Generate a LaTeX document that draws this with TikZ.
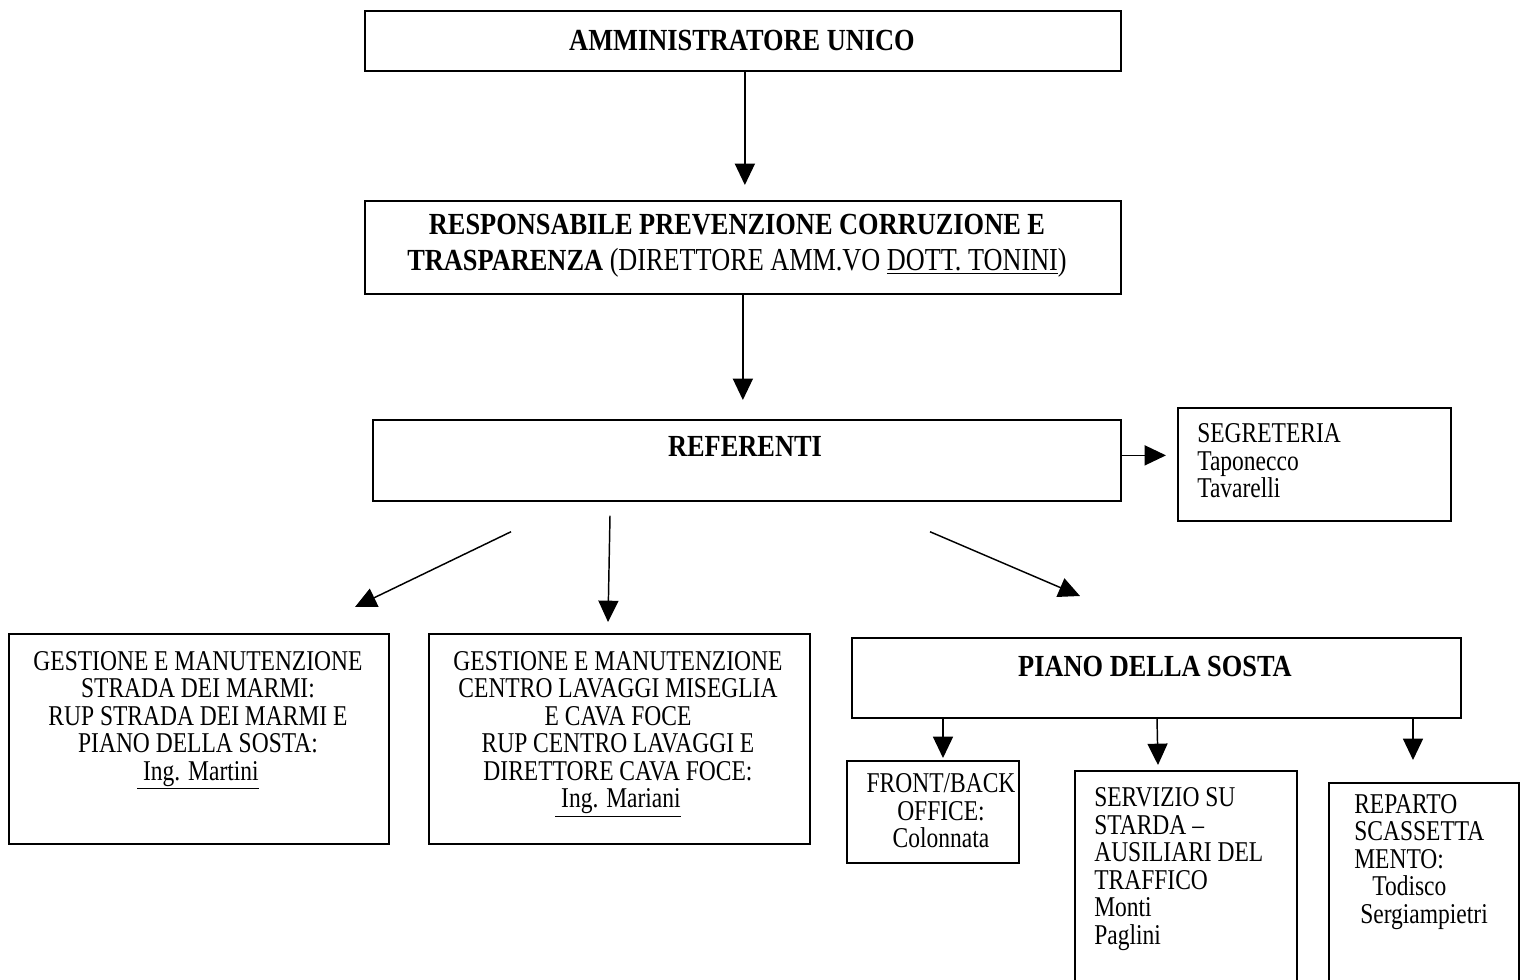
\documentclass[tikz,border=0pt]{standalone}
\usepackage{fontspec}
\setmainfont{Liberation Serif}[FakeStretch=0.82, BoldFeatures={FakeStretch=0.86}]
\usetikzlibrary{arrows.meta}
\begin{document}
\begin{tikzpicture}[x=0.75pt,y=-0.75pt,
  box/.style={draw, line width=1.3pt, inner sep=0pt, anchor=north west},
  arr/.style={line width=1.1pt, -{Triangle[length=16pt,width=15pt]}},
  txt/.style={font=\fontsize{21.5}{20.6}\selectfont, inner sep=0pt},
  btxt/.style={font=\fontsize{23}{27}\selectfont\bfseries, inner sep=0pt}]
\useasboundingbox (0,0) rectangle (1521,979);
\clip (0,0) rectangle (1521,979);

% boxes
\node[box, minimum width=567pt, minimum height=45pt] (adm) at (364,10) {};
\node[box, minimum width=567pt, minimum height=69.75pt] (rpc) at (364,200) {};
\node[box, minimum width=561pt, minimum height=60.75pt] (ref) at (372,419) {};
\node[box, minimum width=204.75pt, minimum height=84.75pt] (seg) at (1177,407) {};
\node[box, minimum width=285pt, minimum height=157.5pt] (gsm) at (8,633) {};
\node[box, minimum width=285.75pt, minimum height=157.5pt] (gcl) at (428,633) {};
\node[box, minimum width=456.75pt, minimum height=60pt] (pds) at (851,637) {};
\node[box, minimum width=129pt, minimum height=76.5pt] (fbo) at (846,760) {};
\node[box, minimum width=166.5pt, minimum height=165pt] (srv) at (1074,770) {};
\node[box, minimum width=142.5pt, minimum height=157.5pt] (rep) at (1328,782) {};

% texts
\node[btxt] (tadm) at (742,40) {AMMINISTRATORE UNICO};
\node[btxt, align=center] (trpc) at (737,246)
  {RESPONSABILE PREVENZIONE CORRUZIONE E\\
   TRASPARENZA {\mdseries\fontsize{24}{27}\selectfont(DIRETTORE AMM.VO \underline{DOTT. TONINI})}};
\node[btxt] (tref) at (745,446) {REFERENTI};
\node[txt, align=left, anchor=west] (tseg) at (1197,461)
  {SEGRETERIA\\ Taponecco\\ Tavarelli};
\node[txt, align=center] (tgsm) at (198,720)
  {GESTIONE E MANUTENZIONE\\ STRADA DEI MARMI:\\ RUP STRADA DEI MARMI E\\
   PIANO DELLA SOSTA:\\ \underline{\ Ing. Martini}};
\node[txt, align=center] (tgcl) at (618,734)
  {GESTIONE E MANUTENZIONE\\ CENTRO LAVAGGI MISEGLIA\\ E CAVA FOCE\\
   RUP CENTRO LAVAGGI E\\ DIRETTORE CAVA FOCE:\\ \underline{\ Ing. Mariani}};
\node[btxt] (tpds) at (1155,666) {PIANO DELLA SOSTA};
\node[txt, align=center] (tfbo) at (941,811) {FRONT/BACK\\ OFFICE:\\ Colonnata};
\node[txt, align=left, anchor=west] (tsrv) at (1094,869)
  {SERVIZIO SU\\ STARDA –\\ AUSILIARI DEL\\ TRAFFICO\\ Monti\\ Paglini};
\node[txt, align=left, anchor=west] (trep) at (1354,862)
  {REPARTO\\ SCASSETTA\\ MENTO:\\ \hspace*{13.5pt}Todisco\\ \hspace*{4.5pt}Sergiampietri};

% connectors
\draw[arr] ([xshift=1.5pt]adm.south) -- ([xshift=1.5pt,yshift=11.25pt]rpc.north);
\draw[arr, shorten >=14.25pt] (rpc.south) -- (rpc.south |- ref.north);
\draw[arr, shorten >=8.25pt] ([yshift=3.75pt]ref.east) -- ([yshift=3.75pt]ref.east -| seg.west);
\draw[arr] ([xshift=104.25pt,yshift=-22.5pt]ref.south west) -- ([xshift=260.25pt,yshift=19.5pt]gsm.north west);
\draw[arr] ([xshift=178.5pt,yshift=-10.5pt]ref.south west) -- ([xshift=135pt,yshift=8.25pt]gcl.north west);
\draw[arr] ([xshift=418.5pt,yshift=-22.5pt]ref.south west) -- ([xshift=171.75pt,yshift=30.75pt]pds.north west);
\draw[arr] ([xshift=69pt]pds.south west) -- ([xshift=72.75pt,yshift=1.5pt]fbo.north west);
\draw[arr] ([xshift=229.5pt]pds.south west) -- ([xshift=63pt,yshift=3.75pt]srv.north west);
\draw[arr] ([xshift=421.5pt]pds.south west) -- ([xshift=63.75pt,yshift=16.5pt]rep.north west);
\end{tikzpicture}
\end{document}
